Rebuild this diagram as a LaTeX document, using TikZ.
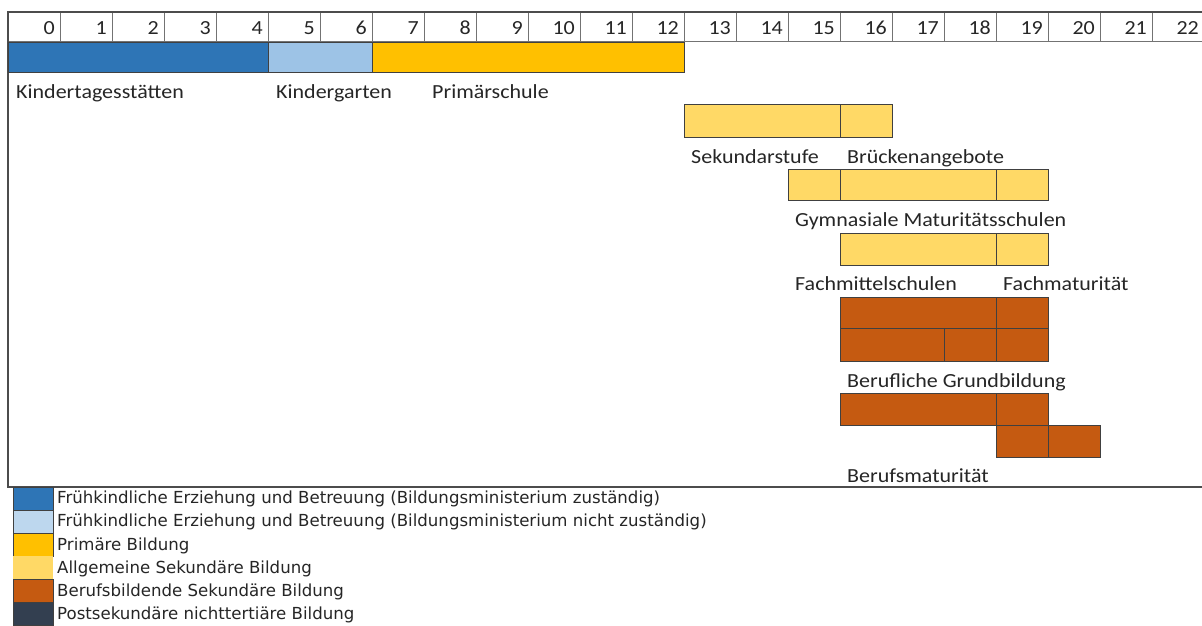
\documentclass[tikz,border=0pt]{standalone}
\usepackage{fontspec}
\setmainfont{Carlito}
\newfontfamily\legfont{DejaVu Sans}
\usepackage{graphicx}
\definecolor{cBlue}{HTML}{2E75B6}
\definecolor{cLBlue}{HTML}{9DC3E6}
\definecolor{cLBlueLeg}{HTML}{BDD7EE}
\definecolor{cOrange}{HTML}{FFC000}
\definecolor{cYellow}{HTML}{FFD966}
\definecolor{cBrown}{HTML}{C55A11}
\definecolor{cDark}{HTML}{333F50}
\definecolor{cLine}{HTML}{404040}
\newcommand\hstretch[1]{\scalebox{1.1}[1]{#1}}
\begin{document}
\begin{tikzpicture}[x=1pt,y=-1pt,
  bar/.style={draw=cLine, line width=0.9pt, inner sep=0pt, outer sep=0pt, anchor=north west, minimum height=32pt},
  lbl/.style={anchor=base west, inner sep=0pt, font=\fontsize{20}{24}\selectfont, text=black!85},
  num/.style={anchor=base east, inner sep=0pt, font=\fontsize{20}{24}\selectfont, text=black!85},
  legsw/.style={draw=cLine, line width=0.8pt, inner sep=0pt, outer sep=0pt, anchor=north west, minimum width=40pt, minimum height=23pt},
  legtx/.style={anchor=base west, inner sep=0pt, font=\legfont\fontsize{16.6}{19}\selectfont, text=black!85},
  grid/.style={draw=black!55, line width=1pt},
  frame/.style={draw=black!70, line width=1.3pt}]
\useasboundingbox (0,0) rectangle (1202,626);
\fill[white] (0,0) rectangle (1202,626);
% frame
\coordinate (ftl) at (8,12);
\coordinate (ftr) at (1202,12);
\coordinate (fbl) at (8,487);
\coordinate (fbr) at (1202,487);
\coordinate (hl) at (8,42);
\coordinate (hr) at (1202,42);
\draw[grid] (hl) -- (hr);
\foreach \i in {1,...,22}{
  \draw[grid] (8+52*\i,12) -- (8+52*\i,42);
}
\draw[frame] (ftr) -- (ftl) -- (fbl) -- (fbr);
% header numbers
\foreach \i in {0,...,22}{
  \node[num] (n\i) at (8+52*\i+47,34.5) {\hstretch{\i}};
}
% row 1
\node[bar, fill=cBlue, minimum width=260pt, minimum height=30pt] (kita) at (8,42) {};
\node[bar, fill=cLBlue, minimum width=104pt, minimum height=30pt] (kg) at (268,42) {};
\node[bar, fill=cOrange, minimum width=312pt, minimum height=30pt] (prim) at (372,42) {};
\node[lbl] (lkita) at (16,99) {\hstretch{Kindertagesstätten}};
\node[lbl] (lkg) at (276,99) {\hstretch{Kindergarten}};
\node[lbl] (lprim) at (432,99) {\hstretch{Primärschule}};
% Sekundarstufe / Brueckenangebote
\node[bar, fill=cYellow, minimum width=156pt, minimum height=33pt] (sek) at (684,104) {};
\node[bar, fill=cYellow, minimum width=52pt, minimum height=33pt] (bru) at (840,104) {};
\node[lbl] (lsek) at (691,163) {\hstretch{Sekundarstufe}};
\node[lbl] (lbru) at (847,163) {\hstretch{Brückenangebote}};
% Gymnasiale
\node[bar, fill=cYellow, minimum width=52pt, minimum height=31pt] (gy1) at (788,169) {};
\node[bar, fill=cYellow, minimum width=156pt, minimum height=31pt] (gy2) at (840,169) {};
\node[bar, fill=cYellow, minimum width=52pt, minimum height=31pt] (gy3) at (996,169) {};
\node[lbl] (lgy) at (795,226) {\hstretch{Gymnasiale Maturitätsschulen}};
% Fachmittelschulen
\node[bar, fill=cYellow, minimum width=156pt] (fms) at (840,233) {};
\node[bar, fill=cYellow, minimum width=52pt] (fm) at (996,233) {};
\node[lbl] (lfms) at (795,290) {\hstretch{Fachmittelschulen}};
\node[lbl] (lfm) at (1003,290) {\hstretch{Fachmaturität}};
% Berufliche Grundbildung
\node[bar, fill=cBrown, minimum width=156pt, minimum height=31pt] (ba1) at (840,297) {};
\node[bar, fill=cBrown, minimum width=52pt, minimum height=31pt] (ba2) at (996,297) {};
\node[bar, fill=cBrown, minimum width=104pt, minimum height=33pt] (bb1) at (840,328) {};
\node[bar, fill=cBrown, minimum width=52pt, minimum height=33pt] (bb2) at (944,328) {};
\node[bar, fill=cBrown, minimum width=52pt, minimum height=33pt] (bb3) at (996,328) {};
\node[lbl] (lbg) at (847,387) {\hstretch{Berufliche Grundbildung}};
% Berufsmaturitaet
\node[bar, fill=cBrown, minimum width=156pt] (bc1) at (840,393) {};
\node[bar, fill=cBrown, minimum width=52pt] (bc2) at (996,393) {};
\node[bar, fill=cBrown, minimum width=52pt] (bd1) at (996,425) {};
\node[bar, fill=cBrown, minimum width=52pt] (bd2) at (1048,425) {};
\node[lbl] (lbm) at (847,482) {\hstretch{Berufsmaturität}};
% legend
\node[legsw, fill=cBlue] (s1) at (13,487) {};
\node[legsw, fill=cLBlueLeg] (s2) at (13,510) {};
\node[legsw, fill=cOrange] (s3) at (13,533) {};
\node[legsw, fill=cYellow, draw=none] (s4) at (13,556) {};
\node[legsw, fill=cBrown] (s5) at (13,579) {};
\node[legsw, fill=cDark] (s6) at (13,602) {};
\node[legtx] (t1) at (57,503) {Frühkindliche Erziehung und Betreuung (Bildungsministerium zuständig)};
\node[legtx] (t2) at (57,526) {Frühkindliche Erziehung und Betreuung (Bildungsministerium nicht zuständig)};
\node[legtx] (t3) at (57,550) {Primäre Bildung};
\node[legtx] (t4) at (57,573) {Allgemeine Sekundäre Bildung};
\node[legtx] (t5) at (57,596) {Berufsbildende Sekundäre Bildung};
\node[legtx] (t6) at (57,619) {Postsekundäre nichttertiäre Bildung};
\end{tikzpicture}
\end{document}
